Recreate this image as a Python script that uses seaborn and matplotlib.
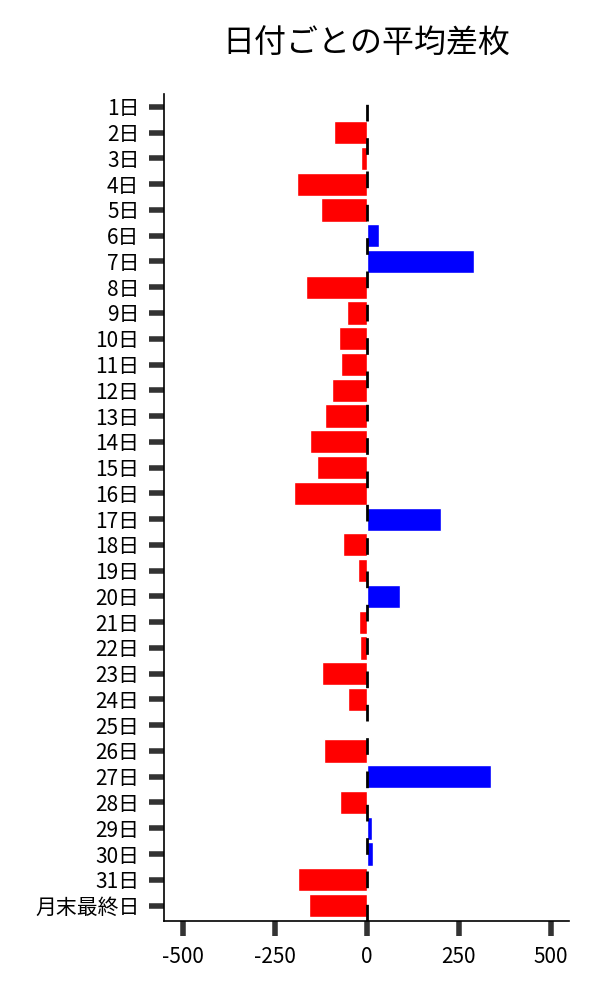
import matplotlib
matplotlib.use("Agg")
import matplotlib.pyplot as plt
import seaborn as sns
import pandas as pd

days = [f"{i}日" for i in range(1, 32)] + ["月末最終日"]
values = [0, -89, -15, -189, -124, 32, 291, -165, -54, -75, -70,
          -94, -113, -154, -135, -197, 202, -64, -24, 90, -21,
          -18, -121, -51, 0, -116, 338, -72, 14, 16, -186, -157]
xticks = [-500, -250, 0, 250, 500]
title = "日付ごとの平均差枚"

df = pd.DataFrame({"day": days, "value": values})
df["sign"] = ["pos" if v > 0 else "neg" for v in values]

sns.set_style("white")
plt.rcParams["font.family"] = ["Noto Sans CJK JP", "DejaVu Sans"]

fig = plt.figure(figsize=(6, 10), dpi=100)
ax = fig.add_axes([0.274, 0.079, 0.675, 0.827])

sns.barplot(data=df, x="value", y="day", hue="sign", orient="h",
            palette={"neg": "#ff0000", "pos": "#0000ff"}, dodge=False,
            legend=False, width=0.9, order=days, ax=ax, saturation=1)

ax.axvline(0, color="black", lw=2, linestyle=(0, (6, 6)), zorder=5)

ax.set_xlim(-550, 550)
ax.set_ylim(len(days) - 0.4, -0.5)
ax.set_xticks(xticks)
ax.set_xticklabels([str(t) for t in xticks])
ax.set_xlabel("")
ax.set_ylabel("")
ax.tick_params(axis="both", which="major", length=11, width=4, color="#333333",
               labelsize=15, labelcolor="black", pad=7)
ax.tick_params(axis="y", left=True)
ax.tick_params(axis="x", bottom=True)
sns.despine(ax=ax)
for s in ["left", "bottom"]:
    ax.spines[s].set_color("black")
    ax.spines[s].set_linewidth(1.2)

fig.suptitle(title, fontsize=23, x=0.611, y=0.972, color="black")

fig.savefig("out.png", dpi=100)
